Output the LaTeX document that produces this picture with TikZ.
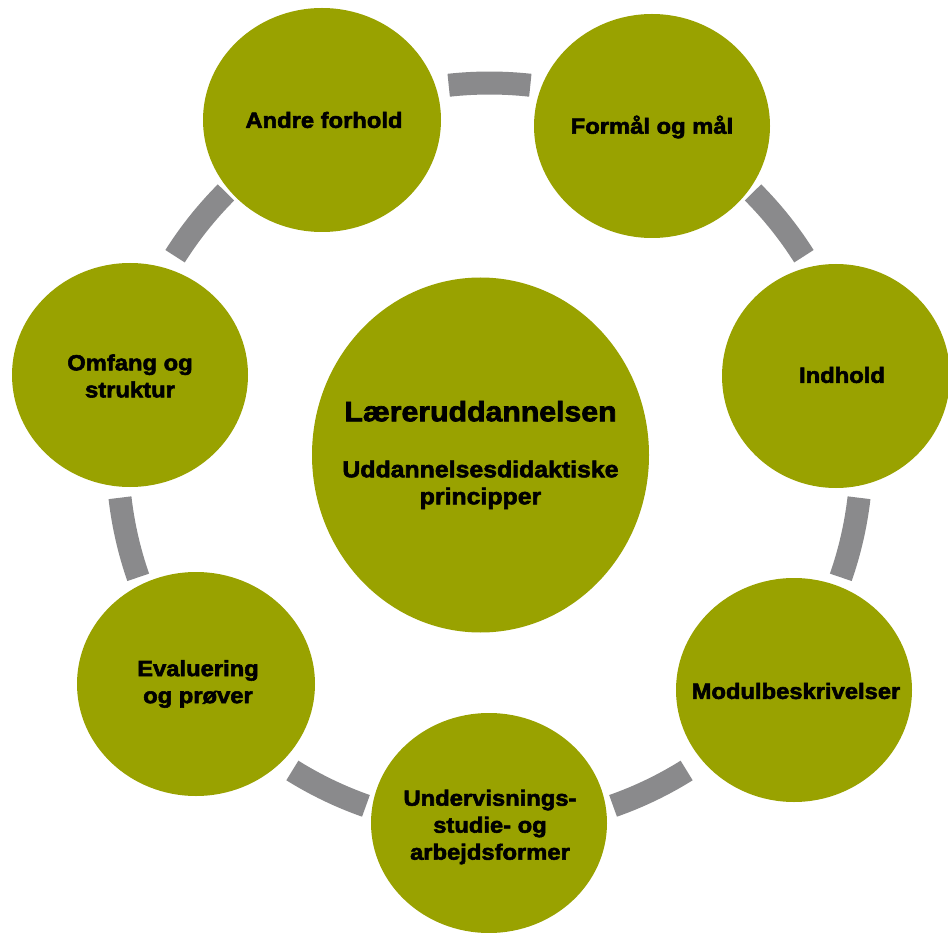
\documentclass[tikz,border=0pt]{standalone}
\usepackage{fontspec}
\newfontfamily\hv[FakeStretch=1.08,FakeBold=2.5]{Liberation Sans}
\usetikzlibrary{shapes.geometric}
\definecolor{olive}{RGB}{153,162,0}
\definecolor{ringgray}{RGB}{138,138,140}
\tikzset{
  blob/.style={ellipse, fill=olive, draw=none, inner sep=0pt},
  lbl/.style={align=center, inner sep=0pt,
    font=\hv\bfseries\fontsize{22}{27}\selectfont, text=black},
  ringarc/.style={draw=ringgray, line width=23pt, line cap=butt}
}
\begin{document}
\begin{tikzpicture}[x=1pt,y=1pt]
\useasboundingbox (0,0) rectangle (948,-933);
\fill[white] (0,0) rectangle (948,-933);
\coordinate (C) at (489.5,-455);
% ring arcs
\foreach \m in {-64.3,-12.9,38.6,90,141.4,192.9,244.3}{
  \draw[ringarc] ([shift={(\m-6.3:372)}]C) arc[start angle=\m-6.3, end angle=\m+6.3, radius=372];
}
% centre
\node[blob, minimum width=337pt, minimum height=355pt] (main) at (480.5,-455) {};
\node[lbl] (main-t) at (main.center)
  {{\fontsize{28}{27}\selectfont Læreruddannelsen}\\[29pt]
   {\fontsize{23}{27}\selectfont Uddannelsesdidaktiske}\\
   {\fontsize{23}{27}\selectfont principper}};
% outer circles
\node[blob, minimum width=238pt, minimum height=224pt] (andre) at (322,-120) {};
\node[blob, minimum width=236pt, minimum height=224pt] (formaal) at (652,-126) {};
\node[blob, minimum width=228pt, minimum height=224pt] (indhold) at (836,-376) {};
\node[blob, minimum width=236pt, minimum height=224pt] (modul) at (794,-690) {};
\node[blob, minimum width=236pt, minimum height=220pt] (underv) at (489,-823) {};
\node[blob, minimum width=238pt, minimum height=224pt] (eval) at (196,-684) {};
\node[blob, minimum width=236pt, minimum height=224pt] (omfang) at (130,-375) {};
% labels
\node[lbl] (andre-t) at (324,-120) {Andre forhold};
\node[lbl] (formaal-t) at (652,-127) {Formål og mål};
\node[lbl] (indhold-t) at (842,-375) {Indhold};
\node[lbl] (modul-t) at (796,-691) {Modulbeskrivelser};
\node[lbl] (underv-t) at (490,-827) {Undervisnings-\\studie- og\\arbejdsformer};
\node[lbl] (eval-t) at (198,-684) {Evaluering\\og prøver};
\node[lbl] (omfang-t) at (130,-376) {Omfang og\\struktur};
\end{tikzpicture}
\end{document}
